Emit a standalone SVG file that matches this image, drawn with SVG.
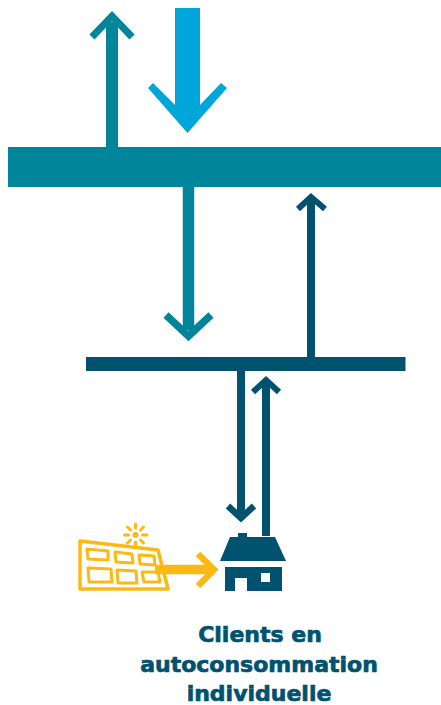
<svg xmlns="http://www.w3.org/2000/svg" width="441" height="705" viewBox="0 0 441 705">
<style>
.teal{fill:#00859b}.dark{fill:#00526f}
.tl{stroke:#00859b}.dl{stroke:#00526f}.yl{stroke:#fdb913}
.arrow{fill:none;stroke-linecap:butt;stroke-linejoin:miter}
.cell{fill:#fff;stroke:#fdb913;stroke-width:3;stroke-linejoin:round}
text{font-family:"DejaVu Sans","Liberation Sans",sans-serif;font-weight:700;font-size:22px;fill:#00526f;stroke:#00526f;stroke-width:.7;text-anchor:middle}
</style>
<rect width="441" height="705" fill="#fff"/>
<g id="connectors">
<path class="arrow tl" stroke-width="12" d="M112 147V22"/>
<path class="arrow tl" stroke-width="7" d="M92 37L112 16L132 37"/>
<path fill="#00a6d9" d="M175 8H200V105L221 83L227 88L187.500 133L148 88L153 83L175 105Z"/>
<path class="arrow tl" stroke-width="11.500" d="M188.500 187V330"/>
<path class="arrow tl" stroke-width="7.500" d="M166 315L188.500 336L211 315"/>
<path class="arrow dl" stroke-width="8" d="M311 357V200"/>
<path class="arrow dl" stroke-width="6" d="M298 209L311 197L325 209"/>
<path class="arrow dl" stroke-width="8" d="M241 371V515"/>
<path class="arrow dl" stroke-width="6.500" d="M228 506L241 518L254 506"/>
<path class="arrow dl" stroke-width="8" d="M266 536V382"/>
<path class="arrow dl" stroke-width="6" d="M253 392L266 380L279 392"/>
</g>
<g id="bar-top"><rect class="teal" x="8" y="147" width="433" height="40"/></g>
<g id="bar-mid"><rect class="dark" x="86" y="357" width="319.500" height="14"/></g>
<g id="house">
<path class="dark" d="M238 537V533H247V537H275L286 561H220L230 537Z"/>
<path class="dark" d="M225 567H282V591H247V578H235V591H225ZM261 573V582H270V573Z" fill-rule="evenodd"/>
</g>
<g id="solar-panel">
<path d="M80 541L158 550L168 589L80 589Z" fill="#fff" stroke="#fdb913" stroke-width="3.500" stroke-linejoin="round"/>
<path class="cell" d="M87 549L108 551L108 560L88 559Z"/>
<path class="cell" d="M115 552L132 554L133 563L116 562Z"/>
<path class="cell" d="M139 555L154 556L155 565L140 564Z"/>
<path class="cell" d="M88 568L111 569L112 582L89 582Z"/>
<path class="cell" d="M117 570L136 571L137 583L118 583Z"/>
<path class="cell" d="M142 572L158 572L160 582L144 582Z"/>
<g id="sun">
<circle cx="135.500" cy="535" r="3" fill="#fdb913"/>
<path class="yl" fill="none" stroke-width="3" stroke-linecap="round" d="M135.500 524V528M135.500 542V546M124.500 535H128.500M142.500 535H147M127.500 527L130.500 530M140.500 540L143.500 543M143.500 527L140.500 530M127.500 543L130.500 540"/>
</g>
</g>
<g id="connector-solar">
<path class="arrow yl" stroke-width="9.500" d="M155 569.500H210"/>
<path class="arrow yl" stroke-width="6.500" stroke-linecap="round" d="M198 554L214 569.500L198 586"/>
</g>
<g id="label">
<text x="260" y="642">Clients en</text>
<text x="259" y="672">autoconsommation</text>
<text x="259" y="701">individuelle</text>
</g>
</svg>
